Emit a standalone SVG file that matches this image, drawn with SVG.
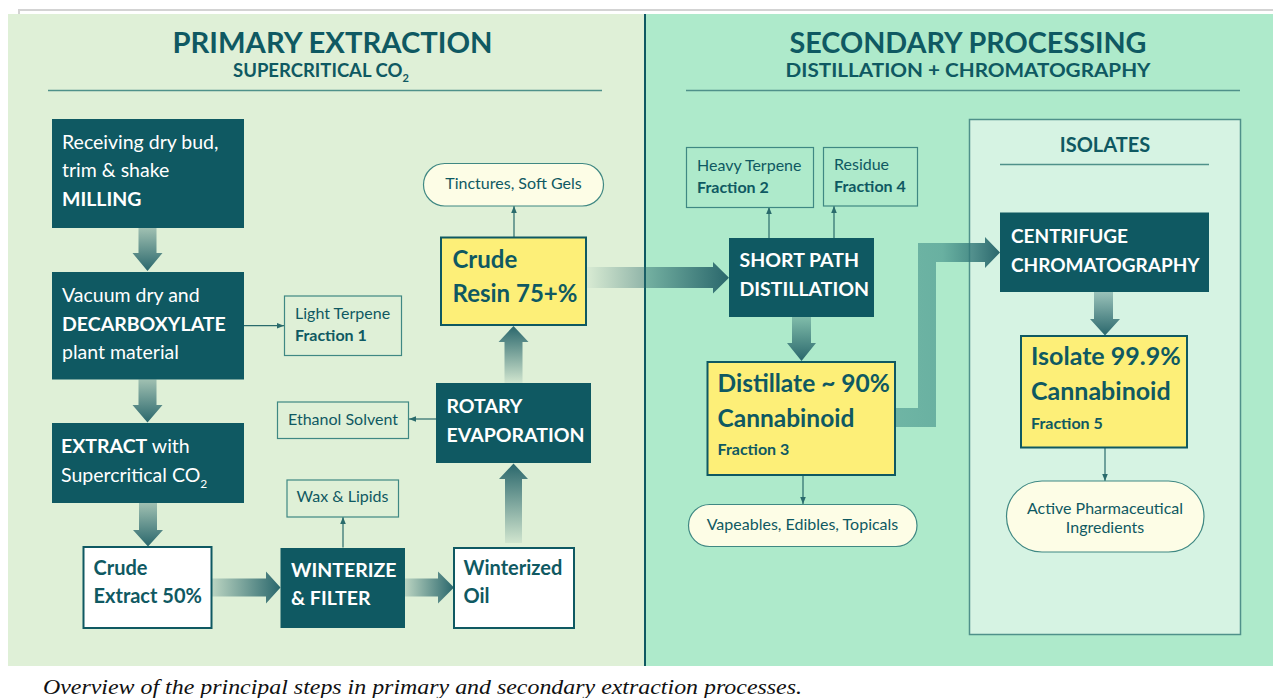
<svg xmlns="http://www.w3.org/2000/svg" width="1273" height="698" viewBox="0 0 1273 698">
<style>
.t{font-family:Lato,"Liberation Sans",sans-serif}
.b{font-weight:bold}
.w{fill:#ffffff}
.d{fill:#0f5962}
.dk{fill:#0f5962}
.yel{fill:#fdef78;stroke:#0f5962;stroke-width:2}
.wht{fill:#ffffff;stroke:#0f5962;stroke-width:2}
.thin{fill:none;stroke:#3f8883;stroke-width:1.2}
.pill{fill:#fdfde6;stroke:#3f8883;stroke-width:1.2}
.conn{stroke:#2a6b6c;stroke-width:1.2;fill:none;marker-end:url(#ah)}
.s16{font-size:16px}
.s20{font-size:19.5px}
</style>
<defs>
<marker id="ah" viewBox="0 0 10 10" refX="10" refY="5" markerWidth="7" markerHeight="7" markerUnits="userSpaceOnUse" orient="auto">
<path d="M0,1 L10,5 L0,9 z" fill="#2a6b6c"/>
</marker>
<linearGradient id="gDown" x1="0" y1="0" x2="0" y2="1"><stop offset="0" stop-color="#2a676c" stop-opacity="0.35"/><stop offset="1" stop-color="#2a676c" stop-opacity="1"/></linearGradient>
<linearGradient id="gUp" x1="0" y1="1" x2="0" y2="0"><stop offset="0" stop-color="#2a676c" stop-opacity="0.08"/><stop offset="1" stop-color="#2a676c" stop-opacity="1"/></linearGradient>
<linearGradient id="gRight" x1="0" y1="0" x2="1" y2="0"><stop offset="0" stop-color="#2a676c" stop-opacity="0.2"/><stop offset="1" stop-color="#2a676c" stop-opacity="1"/></linearGradient>
<linearGradient id="gRight2" x1="0" y1="0" x2="1" y2="0"><stop offset="0" stop-color="#2a676c" stop-opacity="0.03"/><stop offset="1" stop-color="#2a676c" stop-opacity="1"/></linearGradient>
<linearGradient id="gL" gradientUnits="userSpaceOnUse" x1="895" y1="0" x2="1000" y2="0"><stop offset="0" stop-color="#3b8a85" stop-opacity="0.55"/><stop offset="0.45" stop-color="#3b8a85" stop-opacity="0.6"/><stop offset="1" stop-color="#2a676c" stop-opacity="1"/></linearGradient>
</defs>

<!-- background -->
<rect x="0" y="0" width="1273" height="698" fill="#ffffff"/>
<path d="M19,14 V10 H1273" fill="none" stroke="#d3d3d3" stroke-width="2"/>
<rect x="8" y="14" width="637" height="652" fill="#dff0d7"/>
<rect x="645" y="14" width="628" height="652" fill="#aeeacb"/>
<line x1="645" y1="14" x2="645" y2="666" stroke="#0f5962" stroke-width="2"/>

<!-- headers -->
<g id="header-primary">
<text class="t b d" x="332.5" y="53" font-size="28" text-anchor="middle" textLength="320" lengthAdjust="spacingAndGlyphs">PRIMARY EXTRACTION</text>
<text class="t b d" x="233" y="77" font-size="18.5">SUPERCRITICAL CO<tspan font-size="11" dy="5">2</tspan></text>
<line x1="48" y1="90.5" x2="602" y2="90.5" stroke="#4f918a" stroke-width="1.5"/>
</g>
<g id="header-secondary">
<text class="t b d" x="968" y="53" font-size="28" text-anchor="middle" textLength="357" lengthAdjust="spacingAndGlyphs">SECONDARY PROCESSING</text>
<text class="t b d" x="968" y="77" font-size="18.5" text-anchor="middle" textLength="365" lengthAdjust="spacingAndGlyphs">DISTILLATION + CHROMATOGRAPHY</text>
<line x1="686" y1="90.5" x2="1240" y2="90.5" stroke="#4f918a" stroke-width="1.5"/>
</g>

<g id="isolates-group">
<rect x="969.5" y="119.5" width="271" height="515" fill="#d6f3e3" stroke="#4f918a" stroke-width="1.5"/>
<text class="t b d" x="1105" y="152" font-size="20" text-anchor="middle">ISOLATES</text>
<line x1="1000" y1="164.5" x2="1209" y2="164.5" stroke="#4f918a" stroke-width="1.5"/>
</g>

<!-- connectors -->
<g id="connectors">
<polygon points="138.5,228 156.5,228 156.5,253 162.5,253 147.5,271 132.5,253 138.5,253" fill="url(#gDown)"/>
<polygon points="138.5,379.5 156.5,379.5 156.5,405 162.5,405 147.5,422.5 132.5,405 138.5,405" fill="url(#gDown)"/>
<polygon points="139,503 157,503 157,530 163,530 148,546.5 133,530 139,530" fill="url(#gDown)"/>
<polygon points="212,578.5 266,578.5 266,571.5 280.5,587.5 266,603.5 266,596.5 212,596.5" fill="url(#gRight)"/>
<polygon points="405,578.5 438,578.5 438,571.5 454,587.5 438,603.5 438,596.5 405,596.5" fill="url(#gRight)"/>
<polygon points="505,543 522,543 522,479 528,479 513.5,463.5 499,479 505,479" fill="url(#gUp)"/>
<polygon points="504.5,383 522.5,383 522.5,342 528.5,342 513.5,326 498.5,342 504.5,342" fill="url(#gUp)"/>
<polygon points="586,267 713,267 713,262 729,277.7 713,293.5 713,288 586,288" fill="url(#gRight2)"/>
<polygon points="792,317 811,317 811,343 816,343 801.5,361 787,343 792,343" fill="url(#gDown)"/>
<polygon points="895,408 918,408 918,243 985,243 985,237 1000,252.5 985,268 985,262 936,262 936,427 895,427" fill="url(#gL)"/>
<polygon points="1094,292 1113,292 1113,319 1120,319 1105,335.5 1090,319 1094,319" fill="url(#gDown)"/>
<line class="conn" x1="244" y1="325.7" x2="284" y2="325.7"/>
<line class="conn" x1="436" y1="419" x2="409" y2="419"/>
<line class="conn" x1="343" y1="547.5" x2="343" y2="517"/>
<line class="conn" x1="514" y1="237" x2="514" y2="206"/>
<line class="conn" x1="769" y1="238" x2="769" y2="207"/>
<line class="conn" x1="834" y1="238" x2="834" y2="206"/>
<line class="conn" x1="803" y1="475" x2="803" y2="504"/>
<line class="conn" x1="1105" y1="447.5" x2="1105" y2="481"/>
</g>

<!-- nodes -->
<g id="receiving">
<rect class="dk" x="52" y="119" width="192" height="109"/>
<text class="t w s20" x="62" y="149">Receiving dry bud,</text>
<text class="t w s20" x="62" y="177">trim &amp; shake</text>
<text class="t w b s20" x="62" y="205.5">MILLING</text>
</g>
<g id="vacuum">
<rect class="dk" x="52" y="272" width="192" height="107.5"/>
<text class="t w s20" x="62" y="302">Vacuum dry and</text>
<text class="t w b s20" x="62" y="331">DECARBOXYLATE</text>
<text class="t w s20" x="62" y="359">plant material</text>
</g>
<g id="extract">
<rect class="dk" x="52" y="423" width="192" height="80"/>
<text class="t w s20" x="61" y="453"><tspan class="b">EXTRACT</tspan> with</text>
<text class="t w s20" x="61" y="481.5">Supercritical CO<tspan font-size="12" dy="6">2</tspan></text>
</g>
<g id="crude-extract">
<rect class="wht" x="83.5" y="547" width="128" height="81"/>
<text class="t b d" x="93.5" y="575" font-size="20">Crude</text>
<text class="t b d" x="93.5" y="603" font-size="20">Extract 50%</text>
</g>
<g id="winterize">
<rect class="dk" x="280.5" y="548" width="124.5" height="80"/>
<text class="t w b s20" x="291" y="576.5">WINTERIZE</text>
<text class="t w b s20" x="291" y="605">&amp; FILTER</text>
</g>
<g id="winterized-oil">
<rect class="wht" x="454" y="548" width="120" height="80"/>
<text class="t b d" x="463.5" y="575" font-size="20">Winterized</text>
<text class="t b d" x="463.5" y="603" font-size="20">Oil</text>
</g>
<g id="rotary">
<rect class="dk" x="436" y="383" width="155" height="80"/>
<text class="t w b s20" x="446.5" y="413">ROTARY</text>
<text class="t w b s20" x="446.5" y="441.5">EVAPORATION</text>
</g>
<g id="crude-resin">
<rect class="yel" x="441" y="237.5" width="145" height="87.5"/>
<text class="t b d" x="452.5" y="268" font-size="24">Crude</text>
<text class="t b d" x="452.5" y="302" font-size="24">Resin 75+%</text>
</g>
<g id="tinctures">
<rect class="pill" x="423.5" y="163.5" width="180" height="42.5" rx="21.25"/>
<text class="t d s16" x="513.5" y="189" text-anchor="middle">Tinctures, Soft Gels</text>
</g>
<g id="light-terpene">
<rect class="thin" x="284.5" y="296" width="117" height="59.5"/>
<text class="t d s16" x="295" y="318.5">Light Terpene</text>
<text class="t d b s16" x="295" y="341">Fraction 1</text>
</g>
<g id="ethanol">
<rect class="thin" x="277.5" y="402" width="131" height="36.5"/>
<text class="t d s16" x="343" y="425" text-anchor="middle">Ethanol Solvent</text>
</g>
<g id="wax">
<rect class="thin" x="287" y="480" width="111.5" height="37"/>
<text class="t d s16" x="342.5" y="501.5" text-anchor="middle">Wax &amp; Lipids</text>
</g>

<g id="heavy-terpene">
<rect class="thin" x="686.5" y="147.5" width="127" height="60"/>
<text class="t d s16" x="697" y="170.5">Heavy Terpene</text>
<text class="t d b s16" x="697" y="193">Fraction 2</text>
</g>
<g id="residue">
<rect class="thin" x="823.5" y="147.5" width="94" height="58.5"/>
<text class="t d s16" x="834" y="170">Residue</text>
<text class="t d b s16" x="834" y="192">Fraction 4</text>
</g>
<g id="short-path">
<rect class="dk" x="729" y="238" width="145" height="79"/>
<text class="t w b s20" x="739.5" y="267">SHORT PATH</text>
<text class="t w b s20" x="739.5" y="295.5">DISTILLATION</text>
</g>
<g id="distillate">
<rect class="yel" x="707.5" y="362" width="187.5" height="113"/>
<text class="t b d" x="717.5" y="392" font-size="24.5">Distillate ~ 90%</text>
<text class="t b d" x="717.5" y="426.5" font-size="24.5">Cannabinoid</text>
<text class="t b d s16" x="717.5" y="455">Fraction 3</text>
</g>
<g id="vapeables">
<rect class="pill" x="688.5" y="504.5" width="228.5" height="42" rx="21"/>
<text class="t d s16" x="802.5" y="530" text-anchor="middle">Vapeables, Edibles, Topicals</text>
</g>
<g id="centrifuge">
<rect class="dk" x="1000" y="212.5" width="209" height="79.5"/>
<text class="t w b" x="1011" y="243" font-size="19">CENTRIFUGE</text>
<text class="t w b" x="1011" y="271.5" font-size="19">CHROMATOGRAPHY</text>
</g>
<g id="isolate">
<rect class="yel" x="1021" y="336" width="166" height="111.5"/>
<text class="t b d" x="1031" y="365" font-size="25">Isolate 99.9%</text>
<text class="t b d" x="1031" y="400" font-size="25">Cannabinoid</text>
<text class="t b d s16" x="1031" y="428.5">Fraction 5</text>
</g>
<g id="api">
<rect class="pill" x="1006.5" y="481" width="197.5" height="71" rx="35.5"/>
<text class="t d s16" x="1105" y="513.5" text-anchor="middle">Active Pharmaceutical</text>
<text class="t d s16" x="1105" y="533" text-anchor="middle">Ingredients</text>
</g>

<text x="43" y="694" font-family="'Liberation Serif',serif" font-style="italic" font-size="22" fill="#111111" textLength="759" lengthAdjust="spacingAndGlyphs">Overview of the principal steps in primary and secondary extraction processes.</text>
</svg>
